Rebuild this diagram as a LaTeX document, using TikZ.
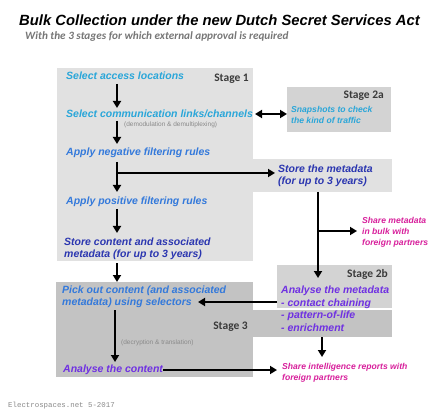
\documentclass[tikz,border=0pt]{standalone}
\usepackage{fontspec}
\setmainfont{Liberation Sans}
\newfontfamily\calib{Carlito}
\newfontfamily\monof{Liberation Mono}
\usetikzlibrary{arrows.meta}
\definecolor{cyanT}{HTML}{29A6D9}
\definecolor{blueT}{HTML}{3379DB}
\definecolor{navyT}{HTML}{2B36B0}
\definecolor{purpT}{HTML}{6F30E2}
\definecolor{magT}{HTML}{D8209C}
\definecolor{grayA}{HTML}{E1E1E1}
\definecolor{grayB}{HTML}{D3D3D3}
\definecolor{grayC}{HTML}{C3C3C3}
\definecolor{subT}{HTML}{777777}
\definecolor{noteT}{HTML}{8A8A8A}
\definecolor{lblT}{HTML}{3A3A3A}
\begin{document}
\begin{tikzpicture}[x=1pt,y=-1pt,
 box/.style={draw=none, inner sep=0, outer sep=0, anchor=north west},
 txt/.style={inner sep=0, anchor=base west, align=left, font=\bfseries\itshape\fontsize{10.5}{12}\selectfont},
 small/.style={inner sep=0, anchor=base west, align=left, font=\bfseries\itshape\fontsize{8.6}{10.8}\selectfont},
 note/.style={inner sep=0, anchor=base west, font=\fontsize{6.5}{8}\selectfont, text=noteT},
 stagelbl/.style={inner sep=0, anchor=base east, font=\calib\bfseries\fontsize{11.5}{13}\selectfont, text=lblT},
 arr/.style={line width=2.2pt, -{Triangle[width=8pt,length=7pt]}},
 dbl/.style={line width=2.2pt, {Triangle[width=8pt,length=7pt]}-{Triangle[width=8pt,length=7pt]}},
]
\useasboundingbox[fill=white] (0,0) rectangle (439,414);

% boxes
\node[box, fill=grayA, minimum width=196pt, minimum height=193pt] (stage1) at (57,68) {};
\node[box, fill=grayA, minimum width=139pt, minimum height=33pt] (storebox) at (253,159) {};
\node[box, fill=grayB, minimum width=104pt, minimum height=45pt] (stage2a) at (287,87) {};
\node[box, fill=grayB, minimum width=115pt, minimum height=43pt] (stage2b) at (277,265) {};
\node[box, fill=grayC, minimum width=197pt, minimum height=95pt] (stage3) at (56,282) {};
\node[box, fill=grayC, minimum width=139pt, minimum height=27pt] (stage3ext) at (253,310) {};

% title
\node[inner sep=0, anchor=base] (title) at (219.5,26) {\bfseries\itshape\fontsize{14.8}{16}\selectfont Bulk Collection under the new Dutch Secret Services Act};
\node[inner sep=0, anchor=base west, text=subT] (subtitle) at (25,40) {\calib\bfseries\itshape\fontsize{11.2}{13}\selectfont With the 3 stages for which external approval is required};

% stage labels
\node[stagelbl] (lbl1) at (249,82) {Stage 1};
\node[stagelbl] (lbl2a) at (384,99) {Stage 2a};
\node[stagelbl] (lbl2b) at (388,277) {Stage 2b};
\node[stagelbl] (lbl3) at (248,329) {Stage 3};

% stage 1 texts
\node[txt, text=cyanT] (selacc) at (66,80) {Select access locations};
\node[txt, text=cyanT] (selcom) at (66,118) {Select communication links/channels};
\node[note] (demod) at (124,127) {(demodulation \& demultiplexing)};
\node[txt, text=blueT] (applyneg) at (66,156) {Apply negative filtering rules};
\node[txt, text=blueT] (applypos) at (66,205) {Apply positive filtering rules};
\node[txt, text=navyT] (storec) at (64,257) {Store content and associated\\metadata (for up to 3 years)};

% stage 2a
\node[small, text=cyanT, font=\bfseries\itshape\fontsize{8.6}{10.5}\selectfont] (snap) at (291,123.5) {Snapshots to check\\the kind of traffic};

% metadata
\node[txt, text=navyT] (storem) at (278,185) {Store the metadata\\(for up to 3 years)};
\node[small, text=magT, font=\bfseries\itshape\fontsize{8.6}{11}\selectfont] (sharem) at (362,245) {Share metadata\\in bulk with\\foreign partners};

% stage 2b
\node[txt, text=purpT, font=\bfseries\itshape\fontsize{10.5}{13}\selectfont] (anmeta) at (281,306) {Analyse the metadata\\- contact chaining};
\node[txt, text=purpT, font=\bfseries\itshape\fontsize{10.5}{13}\selectfont] (anmeta2) at (281,331) {- pattern-of-life\\- enrichment};

% stage 3
\node[txt, text=blueT] (pick) at (62,305) {Pick out content (and associated\\metadata) using selectors};
\node[note] (decr) at (121,344) {(decryption \& translation)};
\node[txt, text=purpT] (ancont) at (63,372) {Analyse the content};
\node[small, text=magT] (shareint) at (282,380) {Share intelligence reports with\\foreign partners};

% footer
\node[inner sep=0, anchor=base west, text=noteT] (footer) at (8,407) {\monof\fontsize{7.4}{9}\selectfont Electrospaces.net 5-2017};

% connector coordinates
\coordinate (a1s) at (117,84);  \coordinate (a1e) at (117,108);
\coordinate (a2s) at (117,121); \coordinate (a2e) at (117,144);
\coordinate (a3s) at (117,162); \coordinate (a3e) at (117,192);
\coordinate (br1) at (117,173); \coordinate (br1e) at (275,173);
\coordinate (a4s) at (117,209); \coordinate (a4e) at (117,233);
\coordinate (a5s) at (117,263); \coordinate (a5e) at (117,282);
\coordinate (d1) at (255,114);  \coordinate (d2) at (287,114);
\coordinate (b1s) at (318,192); \coordinate (b1e) at (318,278);
\coordinate (br2) at (318,231); \coordinate (br2e) at (357,231);
\coordinate (b2s) at (277,302); \coordinate (b2e) at (198,302);
\coordinate (b3s) at (322,337); \coordinate (b3e) at (322,357);
\coordinate (c1s) at (115,310); \coordinate (c1e) at (115,362);
\coordinate (c2s) at (163,370); \coordinate (c2e) at (277,370);

\draw[arr] (a1s) -- (a1e);
\draw[arr] (a2s) -- (a2e);
\draw[arr] (a3s) -- (a3e);
\draw[arr] (br1) -- (br1e);
\draw[arr] (a4s) -- (a4e);
\draw[arr] (a5s) -- (a5e);
\draw[dbl] (d1) -- (d2);
\draw[arr] (b1s) -- (b1e);
\draw[arr] (br2) -- (br2e);
\draw[arr] (b2s) -- (b2e);
\draw[arr] (b3s) -- (b3e);
\draw[arr] (c1s) -- (c1e);
\draw[arr] (c2s) -- (c2e);
\end{tikzpicture}
\end{document}
